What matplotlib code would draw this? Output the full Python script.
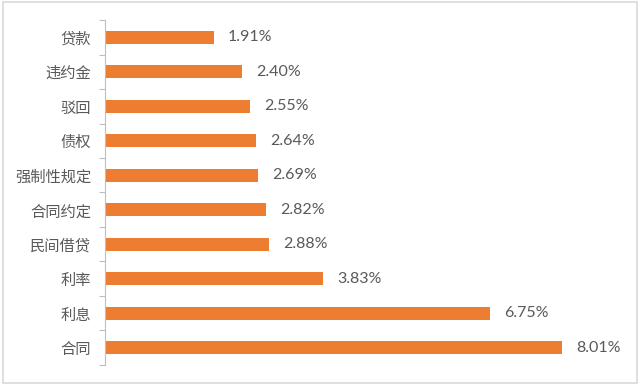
import matplotlib

matplotlib.use("Agg")
import matplotlib.pyplot as plt
from matplotlib.patches import Rectangle

plt.rcParams["font.family"] = ["Noto Sans CJK SC", "DejaVu Sans"]

CATEGORIES = ["贷款", "违约金", "驳回", "债权", "强制性规定", "合同约定", "民间借贷", "利率", "利息", "合同"]
VALUES = [1.91, 2.40, 2.55, 2.64, 2.69, 2.82, 2.88, 3.83, 6.75, 8.01]

BAR_COLOR = "#ED7D31"
TEXT_COLOR = "#595959"
AXIS_COLOR = "#BFBFBF"

fig = plt.figure(figsize=(6.4, 3.85), dpi=100)
ax = fig.add_axes([0.164, 0.052, 0.802, 0.896])

pos = list(range(len(CATEGORIES)))
ax.barh(pos, VALUES, height=0.37, color=BAR_COLOR)
ax.set_yticks(pos)
ax.set_yticklabels(CATEGORIES, fontsize=11, color=TEXT_COLOR)
ax.set_ylim(len(CATEGORIES) - 0.5, -0.5)
ax.set_xlim(0, 9)
ax.set_xticks([])

# tick marks sit between categories, like the original office chart
ax.set_yticks([p - 0.5 for p in range(len(CATEGORIES) + 1)], minor=True)
ax.tick_params(axis="y", which="major", length=0, pad=10)
ax.tick_params(axis="y", which="minor", length=4, color=AXIS_COLOR, width=0.8)

for side in ("top", "right", "bottom"):
    ax.spines[side].set_visible(False)
ax.spines["left"].set_color(AXIS_COLOR)
ax.spines["left"].set_linewidth(0.8)

for p, v in zip(pos, VALUES):
    ax.text(v + 0.25, p, f"{v:.2f}%", va="center", ha="left",
            fontsize=11.5, color=TEXT_COLOR, family=["Lato", "DejaVu Sans"])

fig.patches.append(Rectangle((0.004, 0.005), 0.992, 0.99, transform=fig.transFigure,
                             fill=False, edgecolor="#D9D9D9", linewidth=1.2))

fig.savefig("out.png", dpi=100, facecolor="white")
